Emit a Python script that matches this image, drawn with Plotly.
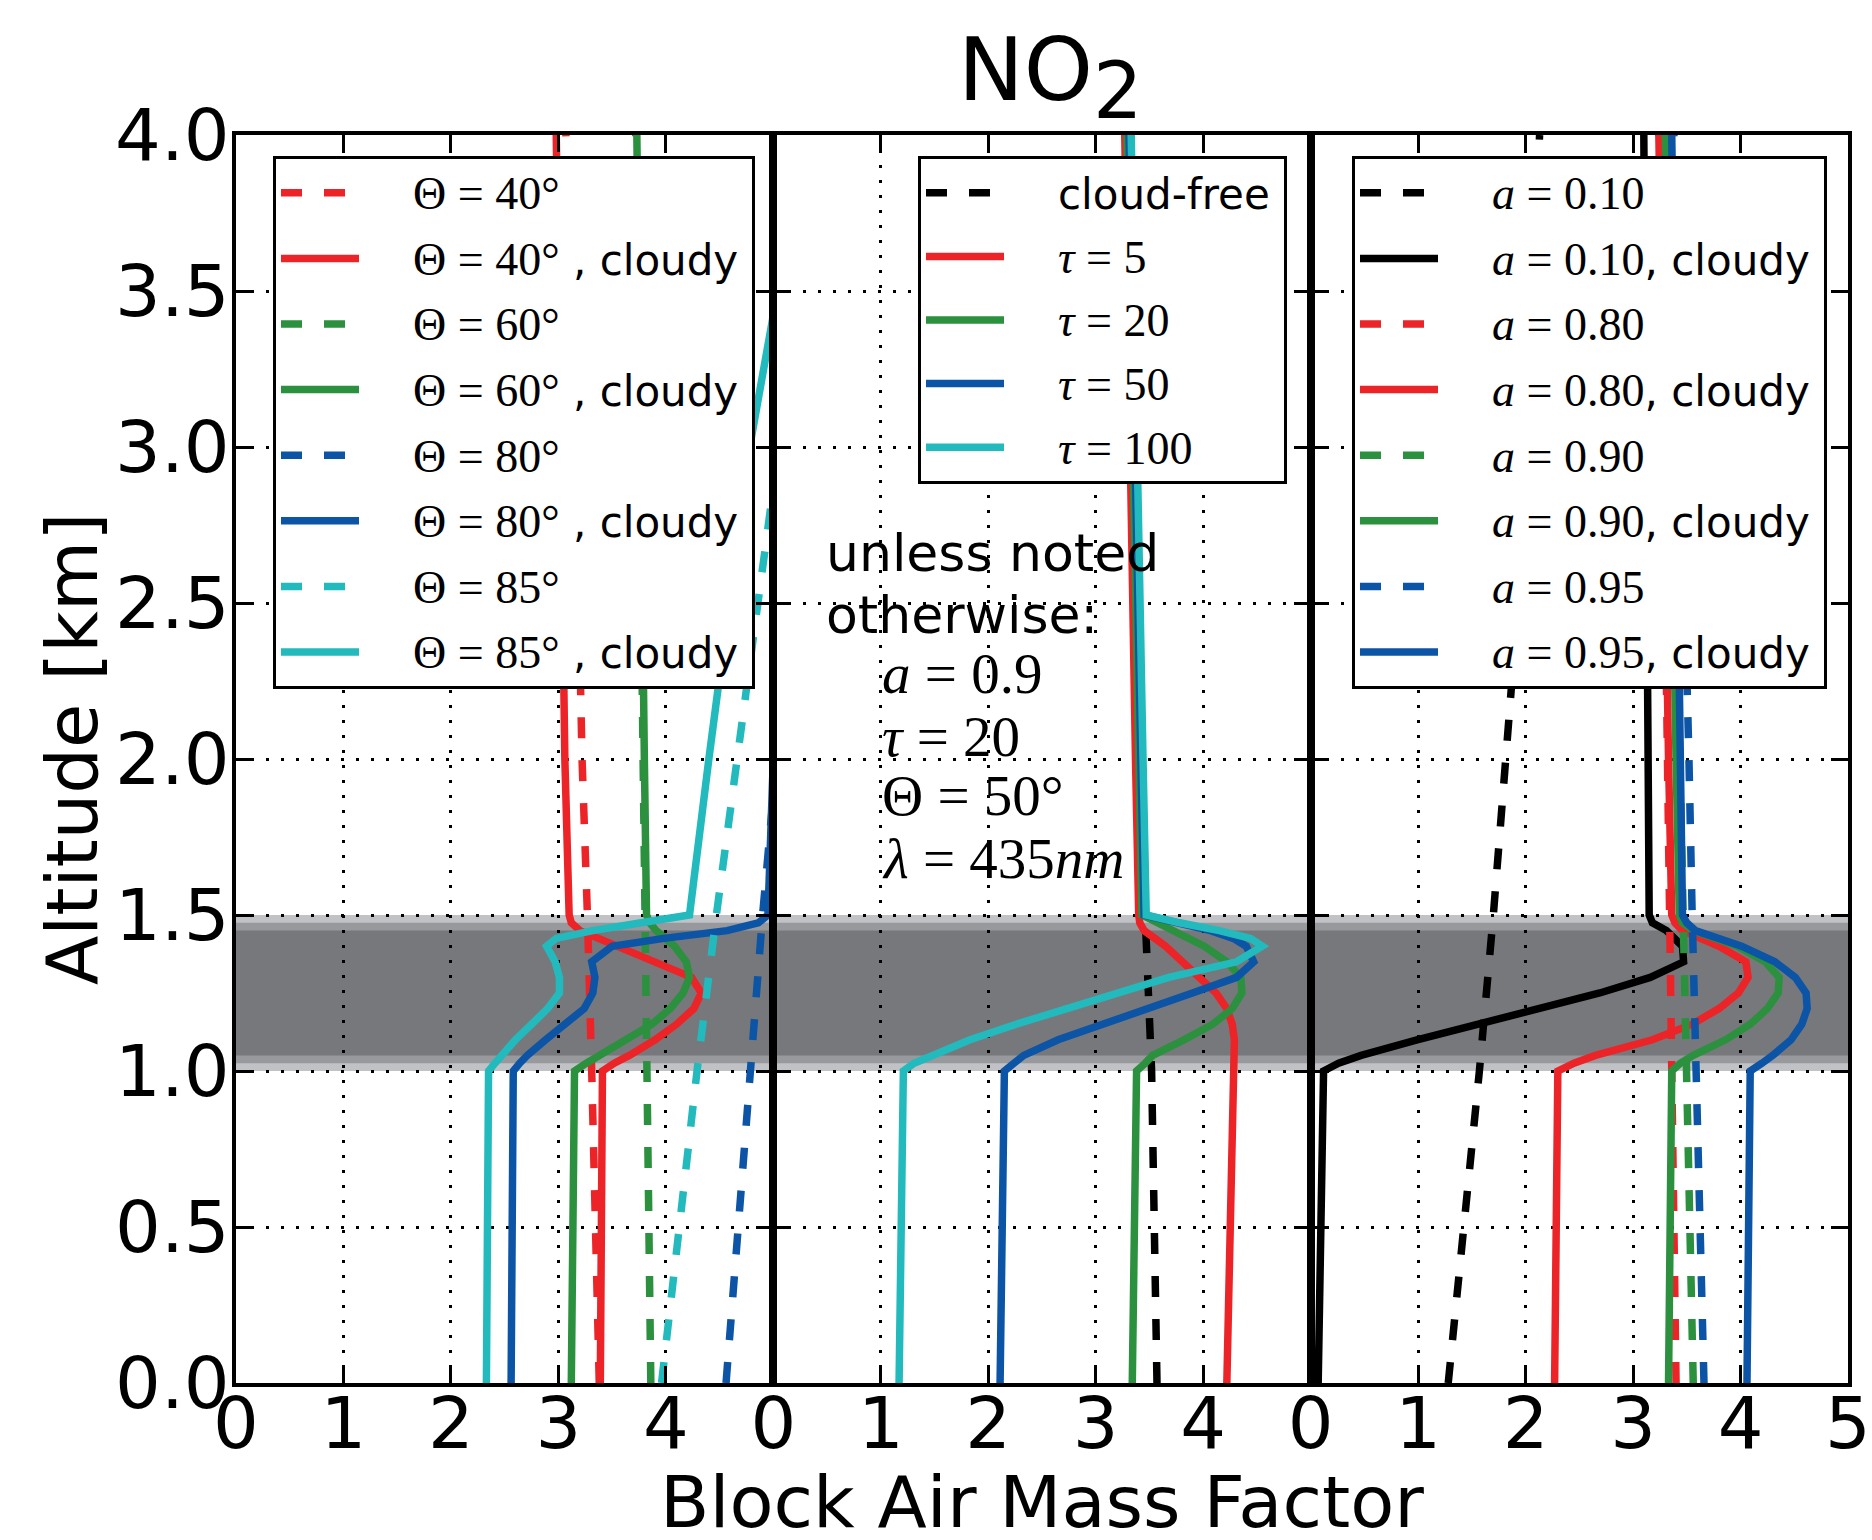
import plotly.graph_objects as go

# ---------------- data ----------------
alt_clear = [0.0, 0.5, 1.0, 1.5, 2.0, 2.5, 3.0, 3.5, 4.0]
alt_cloudy = [0.0, 0.5, 1.0, 1.025, 1.05, 1.1, 1.15, 1.2, 1.25, 1.3, 1.35,
              1.4, 1.425, 1.45, 1.475, 1.5, 2.0, 3.0, 4.0]

# panel 1: solar zenith angle
theta40_clear = [3.38, 3.35, 3.31, 3.27, 3.22, 3.19, 3.15, 3.11, 3.07]
theta60_clear = [3.86, 3.84, 3.83, 3.81, 3.79, 3.77, 3.76, 3.74, 3.72]
theta80_clear = [4.56, 4.67, 4.78, 4.90, 5.03, 5.15, 5.27, 5.40, 5.50]
theta85_clear = [3.96, 4.12, 4.29, 4.47, 4.66, 4.85, 5.05, 5.25, 5.45]
theta40_cloudy = [3.39, 3.40, 3.41, 3.52, 3.66, 3.90, 4.10, 4.26, 4.33, 4.24, 3.88,
                  3.53, 3.36, 3.20, 3.12, 3.10, 3.06, 3.02, 2.98]
theta60_cloudy = [3.12, 3.14, 3.15, 3.26, 3.38, 3.65, 3.87, 4.04, 4.16, 4.22, 4.19,
                  4.08, 3.99, 3.91, 3.85, 3.82, 3.80, 3.77, 3.73]
theta80_cloudy = [2.56, 2.57, 2.58, 2.64, 2.71, 2.88, 3.07, 3.24, 3.32, 3.34, 3.31,
                  3.50, 3.98, 4.57, 4.86, 4.95, 5.00, 5.20, 5.40]
theta85_cloudy = [2.33, 2.34, 2.35, 2.41, 2.47, 2.60, 2.75, 2.90, 3.01, 3.01, 2.97,
                  2.89, 2.98, 3.32, 3.77, 4.22, 4.40, 4.78, 5.30]
theta_labels = ["40", "60", "80", "85"]

# panel 2: cloud optical thickness
cloud_free = [3.57, 3.54, 3.52, 3.46, 3.43, 3.40, 3.37, 3.35, 3.32]
tau5 = [4.22, 4.25, 4.27, 4.28, 4.29, 4.29, 4.27, 4.22, 4.12, 3.97, 3.80,
        3.65, 3.55, 3.45, 3.41, 3.40, 3.37, 3.32, 3.27]
tau20 = [3.34, 3.36, 3.38, 3.46, 3.53, 3.82, 4.09, 4.27, 4.36, 4.35, 4.22,
         4.01, 3.87, 3.72, 3.56, 3.43, 3.40, 3.35, 3.29]
tau50 = [2.11, 2.13, 2.15, 2.24, 2.33, 2.65, 3.08, 3.51, 3.90, 4.31, 4.47,
         4.40, 4.28, 4.07, 3.76, 3.45, 3.42, 3.36, 3.31]
tau100 = [1.17, 1.19, 1.21, 1.31, 1.48, 1.83, 2.26, 2.72, 3.18, 3.68, 4.31,
          4.55, 4.44, 4.15, 3.78, 3.47, 3.44, 3.38, 3.33]
tau_labels = ["5", "20", "50", "100"]

# panel 3: surface albedo
a010_clear = [1.28, 1.43, 1.57, 1.70, 1.82, 1.93, 2.02, 2.08, 2.13]
a080_clear = [3.40, 3.38, 3.36, 3.34, 3.32, 3.30, 3.28, 3.26, 3.24]
a090_clear = [3.56, 3.53, 3.50, 3.47, 3.44, 3.41, 3.37, 3.34, 3.31]
a095_clear = [3.66, 3.62, 3.59, 3.55, 3.52, 3.48, 3.45, 3.41, 3.38]
a010_cloudy = [0.07, 0.09, 0.12, 0.26, 0.47, 0.99, 1.55, 2.15, 2.69, 3.16, 3.47,
               3.46, 3.39, 3.31, 3.18, 3.15, 3.14, 3.12, 3.10]
a080_cloudy = [2.27, 2.28, 2.30, 2.45, 2.65, 3.18, 3.55, 3.80, 3.98, 4.07, 4.05,
               3.80, 3.62, 3.46, 3.39, 3.36, 3.33, 3.28, 3.24]
a090_cloudy = [3.33, 3.34, 3.36, 3.44, 3.56, 3.86, 4.09, 4.25, 4.35, 4.36, 4.23,
               3.97, 3.76, 3.56, 3.46, 3.43, 3.40, 3.35, 3.30]
a095_cloudy = [4.06, 4.07, 4.09, 4.20, 4.30, 4.47, 4.57, 4.62, 4.61, 4.51, 4.32,
               4.01, 3.78, 3.58, 3.50, 3.46, 3.44, 3.40, 3.36]
albedo_labels = ["0.10", "0.80", "0.90", "0.95"]

# cloud layer (km): outer edges and the two inner shading levels
cloud_layers = [(1.0, 1.5), (1.025, 1.475), (1.05, 1.45)]
cloud_colors = ["#c1c2c5", "#98999c", "#77787c"]

y_ticks = [0.0, 0.5, 1.0, 1.5, 2.0, 2.5, 3.0, 3.5, 4.0]
x_ticks_12 = [0, 1, 2, 3, 4]
x_ticks_3 = [0, 1, 2, 3, 4, 5]

# ---------------- styles ----------------
RED, GREEN, BLUE, CYAN, BLACK = "#ec2428", "#2b913e", "#0b54a6", "#22babd", "#000000"
DASH = "21px,22px"
LW = 7.5
SANS = "DejaVu Sans"
MATHSTYLE = "font-family:Liberation Serif;font-size:46px"
LEAD = "\u2003\u2006"    # gap between legend symbol and label
TRAIL = "\u2009"         # right padding inside legend box

W, H = 1872, 1540
ML, MR, MT, MB = 236, 24, 135, 157
PW, PH = W - ML - MR, H - MT - MB


def px_x(x):
    return (x - ML) / PW


def px_y(y):
    return (H - MB - y) / PH


def m(s, style=MATHSTYLE):
    return f'<span style="{style}">{s}</span>'


fig = go.Figure()
gid = [0]


def add(xa, ya, x, y, color, dash, name, legend):
    gid[0] += 1
    fig.add_trace(go.Scatter(
        x=x, y=y, mode="lines", xaxis=xa, yaxis=ya,
        line=dict(color=color, width=LW, dash=dash),
        name=LEAD + name + TRAIL, legend=legend, legendgroup=f"g{gid[0]}",
        hoverinfo="skip"))


# panel 1
colors = [RED, GREEN, BLUE, CYAN]
p1_clear = [theta40_clear, theta60_clear, theta80_clear, theta85_clear]
p1_cloudy = [theta40_cloudy, theta60_cloudy, theta80_cloudy, theta85_cloudy]
for c, lab, clr, cld in zip(colors, theta_labels, p1_clear, p1_cloudy):
    add("x", "y", clr, alt_clear, c, DASH, m(f"Θ = {lab}°"), "legend")
    add("x", "y", cld, alt_cloudy, c, "solid", m(f"Θ = {lab}°") + " , cloudy", "legend")

# panel 2
add("x2", "y2", cloud_free, alt_clear, BLACK, DASH, "cloud-free", "legend2")
for c, lab, vals in zip(colors, tau_labels, [tau5, tau20, tau50, tau100]):
    add("x2", "y2", vals, alt_cloudy, c, "solid", m(f"<i>τ</i> = {lab}"), "legend2")

# panel 3
p3_colors = [BLACK, RED, GREEN, BLUE]
p3_clear = [a010_clear, a080_clear, a090_clear, a095_clear]
p3_cloudy = [a010_cloudy, a080_cloudy, a090_cloudy, a095_cloudy]
for c, lab, clr, cld in zip(p3_colors, albedo_labels, p3_clear, p3_cloudy):
    add("x3", "y3", clr, alt_clear, c, DASH, m(f"<i>a</i> = {lab}"), "legend3")
    add("x3", "y3", cld, alt_cloudy, c, "solid", m(f"<i>a</i> = {lab}") + ", cloudy", "legend3")

# cloud band
for (lo, hi), col in zip(cloud_layers, cloud_colors):
    fig.add_shape(type="rect", xref="paper", yref="y", x0=0, x1=1, y0=lo, y1=hi,
                  fillcolor=col, line=dict(width=0), layer="below")

axis_common = dict(
    showline=True, linewidth=4, linecolor="black", mirror="allticks",
    ticks="inside", ticklen=17, tickwidth=2.5, tickcolor="black",
    showgrid=True, gridcolor="black", gridwidth=2.5, griddash="3px,12px",
    zeroline=False, tickfont=dict(family=SANS, size=72, color="black"),
)
third = 1 / 3
fig.update_layout(
    xaxis=dict(domain=[0, third], range=[0, 5], tickvals=x_ticks_12, anchor="y",
               ticklabelstandoff=-25, **axis_common),
    xaxis2=dict(domain=[third, 2 * third], range=[0, 5], tickvals=x_ticks_12, anchor="y2",
                ticklabelstandoff=-25, **axis_common),
    xaxis3=dict(domain=[2 * third, 1], range=[0, 5], tickvals=x_ticks_3, anchor="y3",
                ticklabelstandoff=-25, **axis_common),
    yaxis=dict(range=[0, 4], tickvals=y_ticks, ticktext=[f"{v:.1f}" for v in y_ticks],
               anchor="x", ticklabelstandoff=-12, **axis_common),
    yaxis2=dict(range=[0, 4], tickvals=y_ticks, showticklabels=False, anchor="x2", **axis_common),
    yaxis3=dict(range=[0, 4], tickvals=y_ticks, showticklabels=False, anchor="x3", **axis_common),
)

legend_common = dict(
    xanchor="left", yanchor="top", bgcolor="white", bordercolor="black", borderwidth=3,
    font=dict(family=SANS, size=42, color="black"), itemwidth=78,
    traceorder="grouped",
)
fig.update_layout(
    legend=dict(x=px_x(273), y=px_y(156), tracegroupgap=8, **legend_common),
    legend2=dict(x=px_x(918), y=px_y(156), tracegroupgap=6, **legend_common),
    legend3=dict(x=px_x(1352), y=px_y(156), tracegroupgap=8, **legend_common),
)

ann = []
ann.append(dict(text='NO<sub><span style="font-size:78px">2</span></sub>', xref="paper", yref="paper",
                x=px_x(1050), y=px_y(16), xanchor="center", yanchor="top", showarrow=False,
                font=dict(family=SANS, size=88, color="black")))
ann.append(dict(text="Block Air Mass Factor", xref="paper", yref="paper", x=0.5, y=px_y(1458),
                xanchor="center", yanchor="top", showarrow=False,
                font=dict(family=SANS, size=72, color="black")))
ann.append(dict(text="Altitude [km]", xref="paper", yref="paper", x=px_x(72), y=px_y(749),
                xanchor="center", yanchor="middle", textangle=-90, showarrow=False,
                font=dict(family=SANS, size=72, color="black")))
note_lines = ["unless noted", "otherwise:"]
note_tops = [521, 583]
for t, top in zip(note_lines, note_tops):
    ann.append(dict(text=t, xref="paper", yref="paper", x=px_x(824), y=px_y(top),
                    xanchor="left", yanchor="top", showarrow=False,
                    font=dict(family=SANS, size=52, color="black")))
math_lines = ["<i>a</i> = 0.9", "<i>τ</i> = 20", "Θ = 50°", "<i>λ</i> = 435<i>nm</i>"]
math_tops = [640, 703, 762, 825]
for t, top in zip(math_lines, math_tops):
    ann.append(dict(text=t, xref="paper", yref="paper", x=px_x(880), y=px_y(top),
                    xanchor="left", yanchor="top", showarrow=False,
                    font=dict(family="Liberation Serif", size=57, color="black")))

fig.update_layout(
    annotations=ann,
    width=W, height=H,
    margin=dict(l=ML, r=MR, t=MT, b=MB, autoexpand=False),
    paper_bgcolor="white", plot_bgcolor="white",
    showlegend=True,
)

fig.write_html("out.html", config={"displayModeBar": False},
               post_script="document.body.style.margin='0';")
